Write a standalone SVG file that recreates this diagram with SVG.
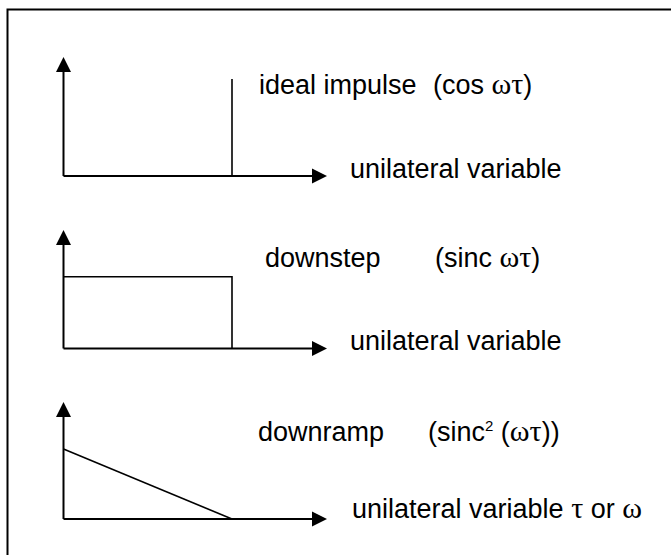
<svg xmlns="http://www.w3.org/2000/svg" width="671" height="555" viewBox="0 0 671 555">
  <style>
    .frame { fill: none; stroke: #000; stroke-width: 2; }
    .axis { fill: none; stroke: #000; stroke-width: 2; }
    .curve { fill: none; stroke: #000; stroke-width: 1.6; }
    .lbl { font-family: "Liberation Sans", Arial, sans-serif; font-size: 27px; fill: #000; }
    .gr { font-family: "Liberation Serif", "Times New Roman", serif; font-size: 30px; }
    .sup { font-size: 15px; }
  </style>
  <defs>
    <marker id="arrow" markerUnits="userSpaceOnUse" markerWidth="16" markerHeight="16" refX="0" refY="8" orient="auto">
      <polygon points="0,0.5 15,8 0,15.5" fill="#000"/>
    </marker>
  </defs>
  <rect width="671" height="555" fill="#fff"/>
  <!-- outer frame, running off the right and bottom edges -->
  <rect class="frame" x="7.5" y="9.5" width="700" height="600"/>

  <!-- axes of the three plots -->
  <g id="connectors">
    <line class="axis" x1="63.5" y1="176" x2="63.5" y2="72" marker-end="url(#arrow)"/>
    <line class="axis" x1="63.5" y1="176" x2="312" y2="176" marker-end="url(#arrow)"/>
    <line class="axis" x1="63.5" y1="348.5" x2="63.5" y2="245" marker-end="url(#arrow)"/>
    <line class="axis" x1="63.5" y1="348.5" x2="312" y2="348.5" marker-end="url(#arrow)"/>
    <line class="axis" x1="63.5" y1="519" x2="63.5" y2="417" marker-end="url(#arrow)"/>
    <line class="axis" x1="63.5" y1="519" x2="312" y2="519" marker-end="url(#arrow)"/>
  </g>

  <g id="impulse">
    <line class="curve" x1="232" y1="79" x2="232" y2="176"/>
    <text class="lbl" x="259" y="94">ideal impulse</text>
    <text class="lbl" x="433" y="94">(cos <tspan class="gr">ωτ</tspan>)</text>
    <text class="lbl" x="350" y="178">unilateral variable</text>
  </g>

  <g id="downstep">
    <polyline class="curve" points="63.5,276.7 232,276.7 232,348.5"/>
    <text class="lbl" x="265" y="267">downstep</text>
    <text class="lbl" x="435" y="267">(sinc <tspan class="gr">ωτ</tspan>)</text>
    <text class="lbl" x="350" y="350">unilateral variable</text>
  </g>

  <g id="downramp">
    <line class="curve" x1="63.5" y1="449" x2="232" y2="519"/>
    <text class="lbl" x="258" y="441">downramp</text>
    <text class="lbl" x="428" y="441">(sinc<tspan class="sup" dy="-10">2</tspan><tspan dy="10"> (</tspan><tspan class="gr">ωτ</tspan>))</text>
    <text class="lbl" x="352" y="518">unilateral variable <tspan class="gr">τ</tspan> or <tspan class="gr">ω</tspan></text>
  </g>
</svg>
